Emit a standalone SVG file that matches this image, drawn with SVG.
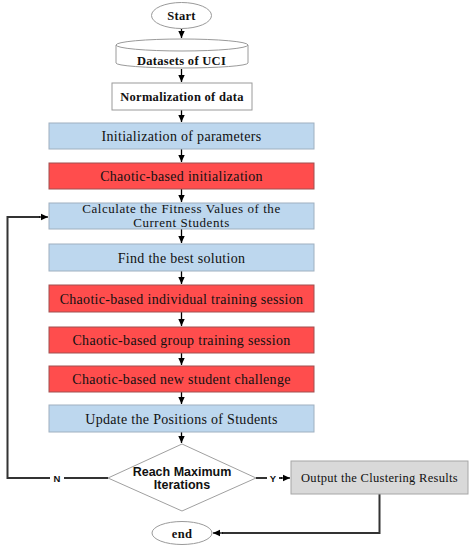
<svg xmlns="http://www.w3.org/2000/svg" width="473" height="550" viewBox="0 0 473 550">
<defs>
<marker id="ah" markerWidth="8" markerHeight="8" refX="7" refY="4" orient="auto" markerUnits="userSpaceOnUse">
<path d="M0,0.8 L7,4 L0,7.2 Z" fill="#000"/>
</marker>
<style>
.t{font-family:"Liberation Serif","Times New Roman",serif;font-size:14px;fill:#111;text-anchor:middle;letter-spacing:0.3px}
.tb{font-family:"Liberation Serif","Times New Roman",serif;font-size:12.5px;font-weight:bold;fill:#111;text-anchor:middle;letter-spacing:0.3px}
.ts{font-family:"Liberation Sans",Arial,sans-serif;font-weight:bold;fill:#111;text-anchor:middle}
.blue{fill:#BDD7EE;stroke:#9FB0C0;stroke-width:1}
.red{fill:#FF4D4D;stroke:#A05050;stroke-width:1}
.gray{fill:#D9D9D9;stroke:#A6A6A6;stroke-width:1}
.white{fill:#fff;stroke:#9A9A9A;stroke-width:1}
.c{fill:none;stroke:#000;stroke-width:1.3}
.c2{fill:none;stroke:#333;stroke-width:2}
</style>
</defs>
<rect width="473" height="550" fill="#fff"/>
<g id="connectors">
<line class="c" x1="181.5" y1="29" x2="181.5" y2="38" marker-end="url(#ah)"/>
<line class="c" x1="181.5" y1="69" x2="181.5" y2="82" marker-end="url(#ah)"/>
<line class="c" x1="181.5" y1="110" x2="181.5" y2="122" marker-end="url(#ah)"/>
<line class="c" x1="181.5" y1="149" x2="181.5" y2="162" marker-end="url(#ah)"/>
<line class="c" x1="181.5" y1="189" x2="181.5" y2="202" marker-end="url(#ah)"/>
<line class="c" x1="181.5" y1="229" x2="181.5" y2="243" marker-end="url(#ah)"/>
<line class="c" x1="181.5" y1="271" x2="181.5" y2="284" marker-end="url(#ah)"/>
<line class="c" x1="181.5" y1="312" x2="181.5" y2="326" marker-end="url(#ah)"/>
<line class="c" x1="181.5" y1="353" x2="181.5" y2="365" marker-end="url(#ah)"/>
<line class="c" x1="181.5" y1="392" x2="181.5" y2="404" marker-end="url(#ah)"/>
<line class="c" x1="181.5" y1="432" x2="181.5" y2="443" marker-end="url(#ah)"/>
<polyline class="c2" points="108,478 7.5,478 7.5,217 40,217"/>
<line class="c" x1="39" y1="217" x2="48" y2="217" marker-end="url(#ah)"/>
<line class="c2" x1="256" y1="478" x2="268" y2="478"/>
<line class="c2" x1="278" y1="478" x2="282" y2="478"/>
<line class="c" x1="281" y1="478" x2="290" y2="478" marker-end="url(#ah)"/>
<polyline class="c2" points="379.5,494 379.5,533 222,533"/>
<line class="c" x1="223" y1="533" x2="213" y2="533" marker-end="url(#ah)"/>
<rect x="50" y="471" width="14" height="14" fill="#fff"/>
<text class="ts" x="57" y="481.5" font-size="9.5">N</text>
<rect x="267" y="471" width="12" height="14" fill="#fff"/>
<text class="ts" x="273" y="481.5" font-size="9.5">Y</text>
</g>
<g id="start">
<ellipse class="white" cx="181.5" cy="15.5" rx="30" ry="13"/>
<text class="tb" x="181.5" y="20">Start</text>
</g>
<g id="datasets">
<path class="white" d="M116,45 A66,6 0 0 1 248,45 L248,63 A66,5 0 0 1 116,63 Z"/>
<path fill="none" stroke="#9A9A9A" d="M116,45 A66,6 0 0 0 248,45"/>
<text class="tb" x="181.5" y="65">Datasets of UCI</text>
</g>
<g id="normalization">
<rect class="white" x="112" y="83" width="140" height="27"/>
<text class="tb" x="182" y="101">Normalization of data</text>
</g>
<g id="init-params">
<rect class="blue" x="49" y="123" width="265" height="26"/>
<text class="t" x="181.5" y="141">Initialization of parameters</text>
</g>
<g id="chaotic-init">
<rect class="red" x="49" y="163" width="265" height="26"/>
<text class="t" x="181.5" y="181">Chaotic-based initialization</text>
</g>
<g id="fitness">
<rect class="blue" x="49" y="203" width="265" height="26"/>
<text class="t" x="181.5" y="213" style="font-size:13px;letter-spacing:0.55px">Calculate the Fitness Values of the</text>
<text class="t" x="181.5" y="227" style="font-size:13px;letter-spacing:0.55px">Current Students</text>
</g>
<g id="best">
<rect class="blue" x="49" y="244" width="265" height="27"/>
<text class="t" x="181.5" y="262.5">Find the best solution</text>
</g>
<g id="individual">
<rect class="red" x="49" y="285" width="265" height="27"/>
<text class="t" x="181.5" y="303.5">Chaotic-based individual training session</text>
</g>
<g id="group">
<rect class="red" x="49" y="327" width="265" height="26"/>
<text class="t" x="181.5" y="345">Chaotic-based group training session</text>
</g>
<g id="challenge">
<rect class="red" x="49" y="366" width="265" height="26"/>
<text class="t" x="181.5" y="384">Chaotic-based new student challenge</text>
</g>
<g id="update">
<rect class="blue" x="49" y="405" width="265" height="27"/>
<text class="t" x="181.5" y="423.5">Update the Positions of Students</text>
</g>
<g id="decision">
<polygon points="182,444 256,478 182,511 108,478" fill="#fff" stroke="#A0A0A0"/>
<text class="ts" x="182" y="475.5" font-size="12.5">Reach Maximum</text>
<text class="ts" x="182" y="489" font-size="12.5">Iterations</text>
</g>
<g id="output">
<rect class="gray" x="291" y="461" width="177" height="33"/>
<text class="t" x="379.5" y="482" style="font-size:12.5px">Output the Clustering Results</text>
</g>
<g id="end">
<ellipse class="white" cx="182" cy="533" rx="30" ry="11.5"/>
<text class="tb" x="182" y="537.5">end</text>
</g>
</svg>
